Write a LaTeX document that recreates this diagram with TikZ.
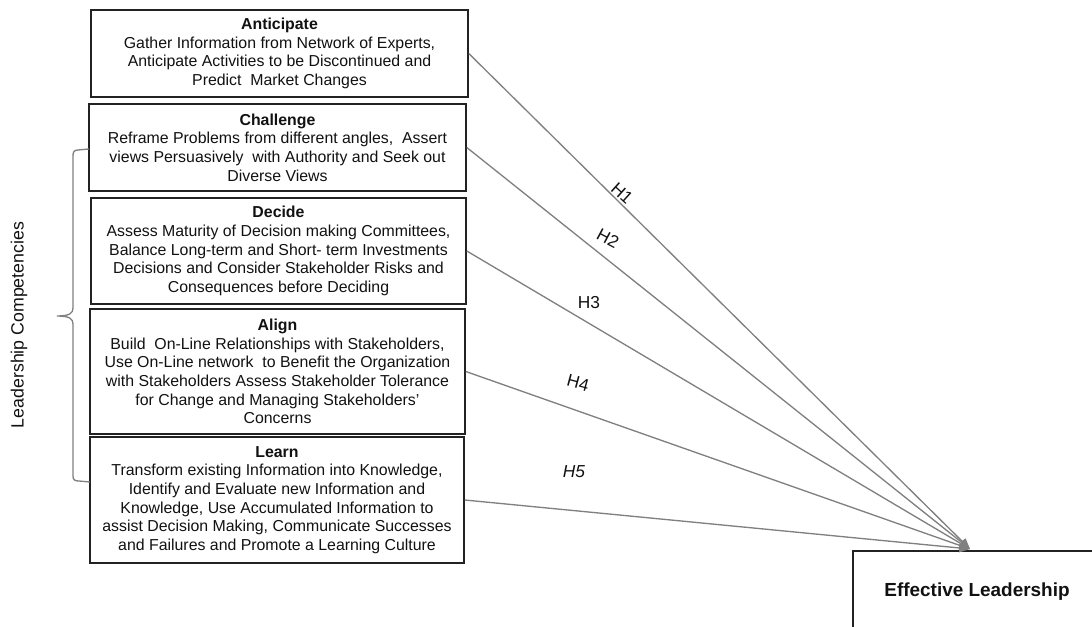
\documentclass[tikz,border=0pt]{standalone}
\usepackage{fontspec}
\setmainfont{Liberation Sans}
\usetikzlibrary{arrows.meta}
\definecolor{linegray}{HTML}{808080}
\definecolor{boxline}{HTML}{222222}
\definecolor{ink}{HTML}{111111}
\begin{document}
\begin{tikzpicture}[x=0.75pt,y=-0.75pt,
  compbox/.style={draw=boxline,line width=1.2pt,rectangle,inner sep=0pt,align=center,
    text=ink,font=\fontsize{11.9}{14}\selectfont},
  link/.style={draw=linegray,line width=1pt,-{Triangle[length=8pt,width=6.5pt]}},
  hlabel/.style={text=ink,font=\fontsize{13}{15}\selectfont,inner sep=1pt},
  bracepath/.style={draw=linegray,line width=1pt}]
\useasboundingbox (0,0) rectangle (1092,626);
\clip (0,0) rectangle (1092,626);

% competency boxes
\node[compbox,minimum width=282.75pt,minimum height=65.25pt] (ant) at (279.5,53.5)
  {\textbf{Anticipate}\\Gather Information from Network of Experts,\\Anticipate Activities to be Discontinued and\\Predict\ \ Market Changes};
\node[compbox,minimum width=282.75pt,minimum height=65.25pt] (cha) at (277.5,147.5)
  {\textbf{Challenge}\\Reframe Problems from different angles,\ \ Assert\\views Persuasively\ \ with Authority and Seek out\\Diverse Views};
\node[compbox,minimum width=281.25pt,minimum height=79.5pt] (dec) at (278.5,251)
  {\textbf{Decide}\\Assess Maturity of Decision making Committees,\\Balance Long-term and Short- term Investments\\Decisions and Consider Stakeholder Risks and\\Consequences before Deciding};
\node[compbox,minimum width=281.25pt,minimum height=93.75pt] (ali) at (277.5,371.5)
  {\textbf{Align}\\Build\ \ On-Line Relationships with Stakeholders,\\Use On-Line network\ \ to Benefit the Organization\\with Stakeholders Assess Stakeholder Tolerance\\for Change and Managing Stakeholders'\\Concerns};
\node[compbox,minimum width=280.5pt,minimum height=94.5pt] (lea) at (277,500)
  {\textbf{Learn}\\Transform existing Information into Knowledge,\\Identify and Evaluate new Information and\\Knowledge, Use Accumulated Information to\\assist Decision Making, Communicate Successes\\and Failures and Promote a Learning Culture};

% outcome box
\node[compbox,minimum width=186pt,minimum height=61.5pt,font=\fontsize{14.2}{17}\selectfont\bfseries] (eff) at (977,592) {Effective Leadership};
\coordinate (tip) at (970,549);

% hypotheses
\draw[link] (ant.east) -- (tip);
\draw[link] (cha.east) -- (tip);
\draw[link] (dec.east) -- (tip);
\draw[link] (ali.east) -- (tip);
\draw[link] (lea.east) -- (tip);

\node[hlabel,rotate=-42] (h1) at (622,193) {H1};
\node[hlabel,rotate=-28] (h2) at (608,238) {H2};
\node[hlabel] (h3) at (589,303) {H3};
\node[hlabel,rotate=-15] (h4) at (578,383) {H4};
\node[hlabel,font=\fontsize{13}{15}\selectfont\itshape] (h5) at (574,472) {H5};

% grouping brace
\draw[bracepath] (89,149) -- (78,150) .. controls (74,150) and (73,152) .. (73,156)
  -- (73,308) .. controls (73,313) and (70,316) .. (57,316)
  .. controls (70,316) and (73,319) .. (73,324)
  -- (73,476) .. controls (73,480) and (75,481) .. (79,481) -- (90,482);
\node[text=ink,rotate=90,font=\fontsize{13.3}{16}\selectfont] (grp) at (19,325) {Leadership Competencies};
\end{tikzpicture}
\end{document}
